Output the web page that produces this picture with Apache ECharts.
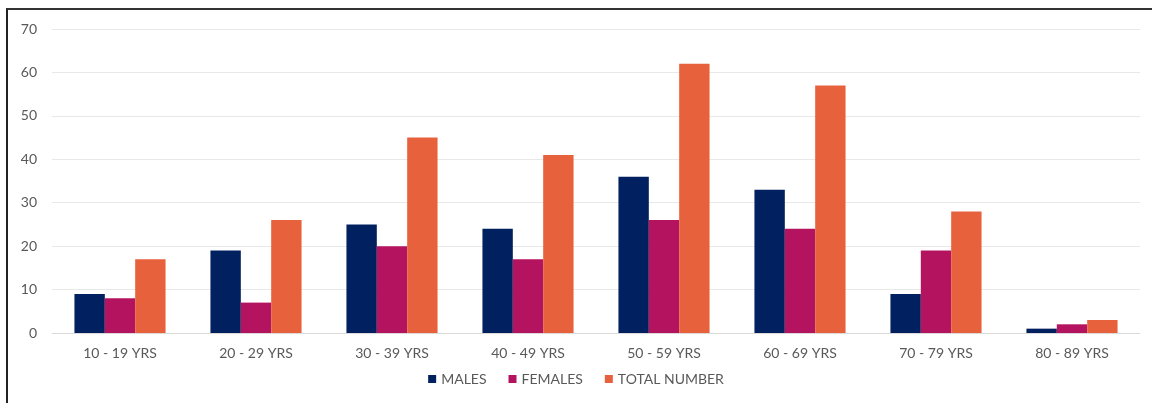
<!DOCTYPE html>
<html><head><meta charset="utf-8">
<script src="https://cdn.jsdelivr.net/npm/echarts@6/dist/echarts.min.js"></script>
<style>
html,body{margin:0;padding:0;background:#fff;}
#c{position:absolute;left:0;top:0;width:1152px;height:403px;}
#frame{position:absolute;left:6px;top:8px;width:1160px;height:420px;border-top:2px solid #333;border-left:2px solid #222;pointer-events:none;}
</style></head>
<body>
<div id="c"></div>
<div id="frame"></div>
<script>
const categories = ["10 - 19 YRS","20 - 29 YRS","30 - 39 YRS","40 - 49 YRS","50 - 59 YRS","60 - 69 YRS","70 - 79 YRS","80 - 89 YRS"];
const males = [9,19,25,24,36,33,9,1];
const females = [8,7,20,17,26,24,19,2];
const totals = [17,26,45,41,62,57,28,3];
const seriesNames = ["MALES","FEMALES","TOTAL NUMBER"];
const font = "Lato, 'DejaVu Sans', sans-serif";
const chart = echarts.init(document.getElementById('c'), null, {renderer:'canvas'});
chart.setOption({
  animation:false,
  color:['#002060','#B4135F','#E6613C'],
  grid:{left:52,right:12,top:29,bottom:70},
  legend:{bottom:12,left:'center',itemWidth:8,itemHeight:8,itemGap:22,icon:'rect',
    textStyle:{color:'#595959',fontSize:14,fontFamily:font},data:seriesNames},
  xAxis:{type:'category',data:categories,axisTick:{show:false},
    axisLine:{lineStyle:{color:'#D9D9D9'}},
    axisLabel:{color:'#595959',fontSize:14,fontFamily:font,margin:13}},
  yAxis:{type:'value',min:0,max:70,interval:10,
    axisLabel:{color:'#595959',fontSize:14,fontFamily:font,margin:15},
    splitLine:{lineStyle:{color:'#E8E8E8'}},axisLine:{show:false},axisTick:{show:false}},
  series:[
    {name:seriesNames[0],type:'bar',data:males,barGap:'0%',barCategoryGap:'33%'},
    {name:seriesNames[1],type:'bar',data:females,barGap:'0%',barCategoryGap:'33%'},
    {name:seriesNames[2],type:'bar',data:totals,barGap:'0%',barCategoryGap:'33%'}
  ]
});
</script>
</body></html>
